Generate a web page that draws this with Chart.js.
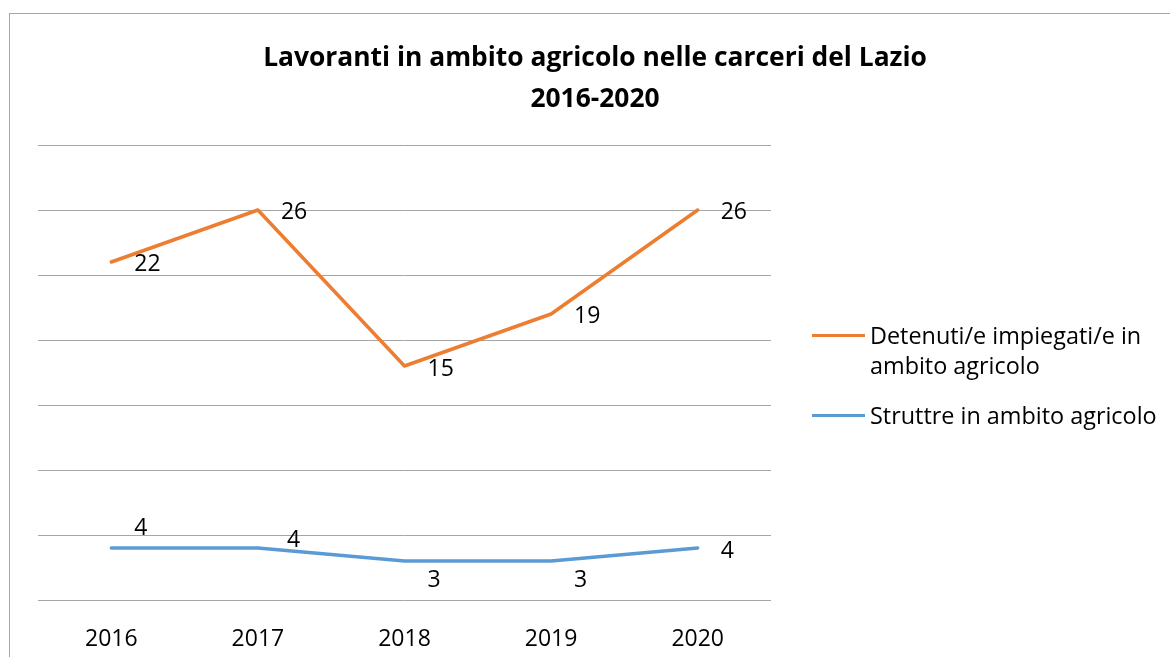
<!DOCTYPE html>
<html>
<head>
<meta charset="utf-8">
<script src="https://cdn.jsdelivr.net/npm/chart.js@4.4.0/dist/chart.umd.min.js"></script>
<style>
  body { margin: 0; background: #fff; font-family: "Open Sans", sans-serif; }
  #wrap { position: relative; width: 1170px; height: 657px; overflow: hidden; }
  #frame { position: absolute; left: 9px; top: 13px; width: 1300px; height: 800px;
           border-left: 1px solid #a6a6a6; border-top: 1px solid #a6a6a6; }
  #title { position: absolute; left: 0; top: 36px; width: 1190px; text-align: center;
           font-weight: bold; font-size: 26.4px; line-height: 41px; color: #000; }
  #legend { position: absolute; left: 812px; top: 0; font-size: 23.4px; color: #000; }
  .item { position: absolute; left: 0; width: 340px; }
  .swatch { position: absolute; left: 0; width: 53px; height: 3px; }
  .text { position: absolute; left: 58px; width: 300px; line-height: 30px; }
  canvas { position: absolute; left: 0; top: 0; }
</style>
</head>
<body>
<div id="wrap">
  <div id="frame"></div>
  <canvas id="chart" width="1170" height="657"></canvas>
  <div id="title">Lavoranti in ambito agricolo nelle carceri del Lazio<br>2016-2020</div>
  <div id="legend"></div>
</div>
<script>
const years = ['2016', '2017', '2018', '2019', '2020'];
const detenuti = [22, 26, 15, 19, 26];
const strutture = [4, 4, 3, 3, 4];
const seriesNames = ['Detenuti/e impiegati/e in ambito agricolo', 'Struttre in ambito agricolo'];

const orange = '#ED7D31';
const blue = '#5B9BD5';

// where Excel put each value label, relative to its point
const labelOffsets = [
    [[23, -20], [29, -8], [23, 19], [23, 19], [23, 3]],   // strutture
    [[23, 2], [23, 2], [23, 3], [23, 2], [23, 2]]         // detenuti
];

const valueLabels = {
    id: 'valueLabels',
    afterDatasetsDraw(chart) {
        const ctx = chart.ctx;
        ctx.save();
        ctx.font = '23px "Open Sans"';
        ctx.fillStyle = '#000';
        ctx.textAlign = 'left';
        ctx.textBaseline = 'middle';
        chart.data.datasets.forEach((ds, i) => {
            chart.getDatasetMeta(i).data.forEach((pt, j) => {
                const off = labelOffsets[i][j];
                ctx.fillText(String(ds.data[j]), pt.x + off[0], pt.y + off[1]);
            });
        });
        ctx.restore();
    }
};

const ctx = document.getElementById('chart').getContext('2d');
const chart = new Chart(ctx, {
    type: 'line',
    data: {
        labels: years,
        datasets: [
            { label: seriesNames[1], data: strutture, borderColor: blue, backgroundColor: blue },
            { label: seriesNames[0], data: detenuti, borderColor: orange, backgroundColor: orange }
        ]
    },
    options: {
        responsive: false,
        animation: false,
        elements: {
            line: { borderWidth: 3.5, tension: 0, borderCapStyle: 'round', borderJoinStyle: 'round' },
            point: { radius: 0, hoverRadius: 0 }
        },
        layout: { padding: { left: 38, right: 399, top: 145, bottom: 0 } },
        plugins: {
            legend: { display: false },
            title: { display: false },
            tooltip: { enabled: false }
        },
        scales: {
            x: {
                offset: true,
                grid: { display: false },
                border: { display: false },
                ticks: { color: '#000', padding: 18, font: { family: 'Open Sans', size: 23 } },
                afterFit(s) { s.height = 57; }
            },
            y: {
                stacked: true,
                min: 0,
                max: 35,
                ticks: { display: false, stepSize: 5 },
                grid: { color: '#a6a6a6', lineWidth: 1, drawTicks: false },
                border: { display: false },
                afterFit(s) { s.width = 0; }
            }
        }
    },
    plugins: [valueLabels]
});

// legend: orange first, then blue, like the original
const legend = document.getElementById('legend');
const legendRows = [
    { name: seriesNames[0], color: orange, y: 335 },
    { name: seriesNames[1], color: blue, y: 415 }
];
legendRows.forEach(row => {
    const item = document.createElement('div');
    item.className = 'item';
    item.style.top = (row.y - 15) + 'px';
    item.innerHTML = '<div class="swatch" style="top:14px;background:' + row.color + '"></div>' +
        '<div class="text">' + row.name + '</div>';
    legend.appendChild(item);
});
</script>
</body>
</html>
